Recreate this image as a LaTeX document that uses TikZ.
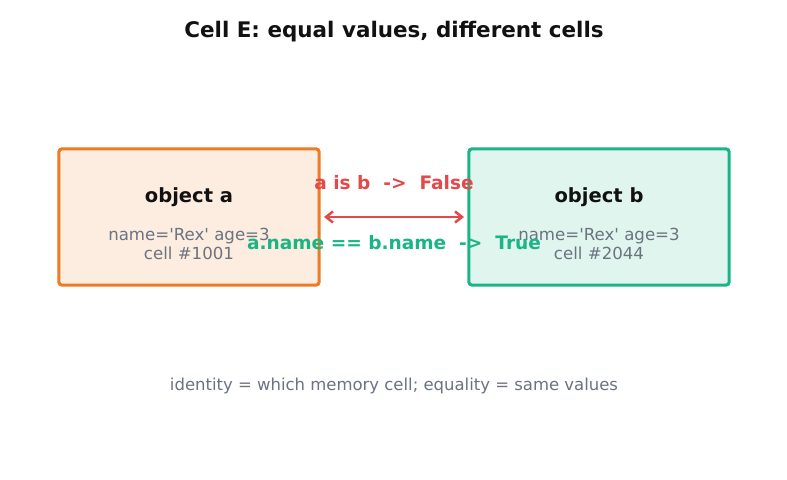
\documentclass[tikz,border=0pt]{standalone}
\usepackage{fontspec}
\setmainfont{DejaVu Sans}
\usepackage{xcolor}
\usetikzlibrary{arrows.meta, positioning}
\definecolor{inkdark}{HTML}{111111}
\definecolor{inkgrey}{HTML}{6B7280}
\definecolor{objorange}{HTML}{EE7A24}
\definecolor{objorangefill}{HTML}{FDECE0}
\definecolor{objgreen}{HTML}{19B585}
\definecolor{objgreenfill}{HTML}{E0F5EE}
\definecolor{isred}{HTML}{E5484A}

\begin{document}
\begin{tikzpicture}[
    x=0.01in, y=-0.01in,
    objbox/.style={rectangle, line width=2.2pt, minimum width=2.6in, minimum height=1.36in, rounded corners=2pt},
    objtitle/.style={font=\fontsize{14.1}{16}\selectfont\bfseries, text=inkdark},
    objinfo/.style={font=\fontsize{12}{14}\selectfont, text=inkgrey, align=center, inner sep=0pt},
    arrow/.style={{Straight Barb[length=5pt, width=8pt]}-{Straight Barb[length=5pt, width=8pt]}, line width=1.8pt, draw=isred, shorten <=2.5pt, shorten >=2.5pt},
    verdict/.style={font=\fontsize{13.4}{15}\selectfont\bfseries}
]
\useasboundingbox (0,0) rectangle (787,480);

\node[font=\fontsize{15.5}{18}\selectfont\bfseries, text=inkdark] (title) at (394,32) {Cell E: equal values, different cells};

% the two objects
\node[objbox, draw=objorange, fill=objorangefill] (obja) at (189,217) {};
\node[objbox, draw=objgreen, fill=objgreenfill] (objb) at (599,217) {};

\node[objtitle] (obja title) at (189,197) {object a};
\node[objinfo] (obja info) at (189,244) {name=\textquotesingle Rex\textquotesingle{} age=3\\cell \#1001};
\node[objtitle] (objb title) at (599,197) {object b};
\node[objinfo] (objb info) at (599,244) {name=\textquotesingle Rex\textquotesingle{} age=3\\cell \#2044};

% identity vs equality
\draw[arrow] (obja) -- (objb);
\node[verdict, text=isred] (is) at (394,183) {a is b\ \ ->\ \ False};
\node[verdict, text=objgreen] (eq) at (394,243) {a.name == b.name\ \ ->\ \ True};

\node[font=\fontsize{11.9}{14}\selectfont, text=inkgrey] (note) at (394,386) {identity = which memory cell; equality = same values};
\end{tikzpicture}
\end{document}
